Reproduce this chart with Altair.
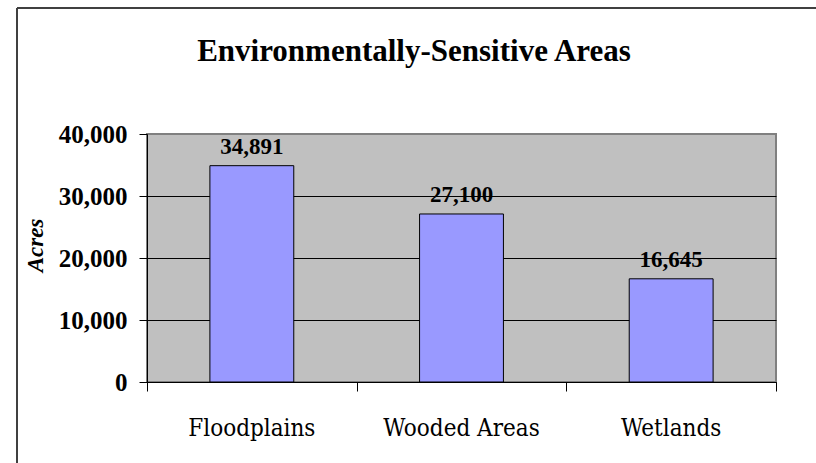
import altair as alt
import pandas as pd

categories = ["Floodplains", "Wooded Areas", "Wetlands"]
acres = [34891, 27100, 16645]
value_labels = ["34,891", "27,100", "16,645"]
y_ticks = [0, 10000, 20000, 30000, 40000]
title_text = "Environmentally-Sensitive Areas"
y_title = "Acres"

FONT = "Liberation Serif"
CAT_FONT = "DejaVu Serif Condensed"

df = pd.DataFrame({"Area": categories, "Acres": acres, "Label": value_labels})

x = alt.X(
    "Area:N",
    sort=categories,
    scale=alt.Scale(paddingInner=0, paddingOuter=0),
    axis=alt.Axis(
        title=None, labels=False, tickBand="extent", tickSize=9, tickColor="black",
        domainColor="black", grid=False,
    ),
)
y = alt.Y(
    "Acres:Q",
    scale=alt.Scale(domain=[0, 40000], nice=False),
    axis=alt.Axis(
        values=y_ticks, format=",d", title=y_title,
        labelFont=FONT, labelFontSize=25, labelFontWeight="bold", labelColor="black",
        labelPadding=12, tickSize=8, tickColor="black", domainColor="black",
        grid=True,
        gridColor={"condition": {"test": "datum.value === 40000", "value": "#808080"}, "value": "black"},
        gridOpacity=1,
        titleFont=FONT, titleFontSize=23, titleFontStyle="italic", titleFontWeight="bold",
        titleColor="black", titleAngle=270, titleX=-112, titleY=111,
        titleAlign="center", titleBaseline="middle",
    ),
)

base = alt.Chart(df).encode(x=x, y=y)
bars = base.mark_bar(color="#9999FF", stroke="black", strokeWidth=1,
                     width=alt.RelativeBandSize(0.4))
texts = base.mark_text(baseline="alphabetic", dy=-12, font=FONT, fontSize=23,
                       fontWeight="bold", color="black").encode(text="Label:N")
cat_labels = alt.Chart(df).mark_text(
    baseline="alphabetic", font=CAT_FONT, fontSize=24, fontWeight=300,
    color="black").encode(x=x, y=alt.value(302), text="Area:N")

one = alt.Data(values=[{"t": title_text}])
title = alt.Chart(one).mark_text(font=FONT, fontSize=31, fontWeight="bold",
                                 color="black", align="center",
                                 baseline="alphabetic").encode(
    text="t:N", x=alt.value(267), y=alt.value(-73))

frame = alt.Chart(alt.Data(values=[{}])).mark_rule(color="#404040", strokeWidth=2)
left_line = frame.encode(x=alt.value(-130), y=alt.value(-126), y2=alt.value(329))
top_line = frame.encode(x=alt.value(-130), x2=alt.value(669), y=alt.value(-126))

chart = alt.layer(bars, texts, cat_labels, title, left_line, top_line).properties(
    width=629, height=248,
    autosize=alt.AutoSizeParams(type="none"),
    padding={"left": 147, "top": 134, "right": 40, "bottom": 81},
    background="white",
).configure_view(
    stroke="#808080", strokeWidth=2, fill="#C0C0C0"
)

chart.save("out.html", embed_options={"renderer": "svg", "actions": False})
